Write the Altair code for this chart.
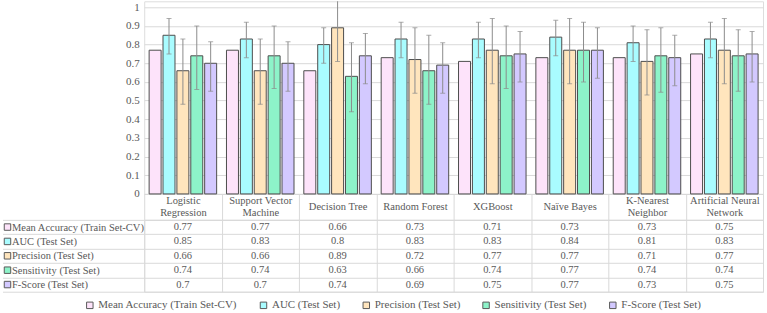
import altair as alt
import pandas as pd

MODELS = ["Logistic Regression", "Support Vector Machine", "Decision Tree",
          "Random Forest", "XGBoost", "Naïve Bayes", "K-Nearest Neighbor",
          "Artificial Neural Network"]
HEADER_LINES = {
    "Logistic Regression": ["Logistic", "Regression"],
    "Support Vector Machine": ["Support Vector", "Machine"],
    "K-Nearest Neighbor": ["K-Nearest", "Neighbor"],
    "Artificial Neural Network": ["Artificial Neural", "Network"],
}
METRICS = ["Mean Accuracy (Train Set-CV)", "AUC (Test Set)", "Precision (Test Set)",
           "Sensitivity (Test Set)", "F-Score (Test Set)"]
COLORS = ["#FDE3FA", "#A9FCFF", "#FFE5BD", "#8DF3C9", "#D3C9FF"]

mean_acc = [0.77, 0.77, 0.66, 0.73, 0.71, 0.73, 0.73, 0.75]
auc = [0.85, 0.83, 0.8, 0.83, 0.83, 0.84, 0.81, 0.83]
precision = [0.66, 0.66, 0.89, 0.72, 0.77, 0.77, 0.71, 0.77]
sensitivity = [0.74, 0.74, 0.63, 0.66, 0.74, 0.77, 0.74, 0.74]
fscore = [0.7, 0.7, 0.74, 0.69, 0.75, 0.77, 0.73, 0.75]

# error bar extents; Mean Accuracy has none
auc_lo = [0.75, 0.73, 0.70, 0.73, 0.73, 0.74, 0.71, 0.73]
auc_hi = [0.94, 0.92, 0.89, 0.92, 0.92, 0.93, 0.90, 0.92]
prec_lo = [0.48, 0.48, 0.71, 0.54, 0.59, 0.59, 0.53, 0.59]
prec_hi = [0.83, 0.83, 1.07, 0.89, 0.94, 0.94, 0.88, 0.94]
sens_lo = [0.56, 0.565, 0.44, 0.48, 0.565, 0.60, 0.545, 0.55]
sens_hi = [0.90, 0.90, 0.81, 0.85, 0.90, 0.92, 0.89, 0.88]
f_lo = [0.55, 0.55, 0.59, 0.54, 0.60, 0.62, 0.58, 0.60]
f_hi = [0.815, 0.815, 0.86, 0.81, 0.87, 0.89, 0.85, 0.87]

Y_TICKS = [0, 0.1, 0.2, 0.3, 0.4, 0.5, 0.6, 0.7, 0.8, 0.9, 1]

series = [mean_acc, auc, precision, sensitivity, fscore]
rows = []
for m, vals in zip(METRICS, series):
    for model, v in zip(MODELS, vals):
        rows.append({"model": model, "metric": m, "value": v, "label": str(v)})
df = pd.DataFrame(rows)

err_rows = []
for m, lo, hi in zip(METRICS[1:], [auc_lo, prec_lo, sens_lo, f_lo],
                     [auc_hi, prec_hi, sens_hi, f_hi]):
    for model, a, b in zip(MODELS, lo, hi):
        err_rows.append({"model": model, "metric": m, "lo": a, "hi": b})
edf = pd.DataFrame(err_rows)

FONT = "Liberation Serif"
TXT = "#595959"
GRID = "#D9D9D9"
W = 620
HEADER_H = 26

label_expr = "datum.value"
for k, v in HEADER_LINES.items():
    label_expr = f"datum.value === '{k}' ? ['{v[0]}', '{v[1]}'] : (" + label_expr + ")"
two_line_test = "indexof([" + ", ".join(f"'{k}'" for k in HEADER_LINES) + "], datum.value) >= 0"

x_axis = alt.Axis(labels=False, ticks=False, domain=True, domainColor=GRID, grid=False)
x_scale = alt.Scale(domain=MODELS, paddingInner=0.127, paddingOuter=0.0635)
x_enc = alt.X("model:N", sort=MODELS, title=None, scale=x_scale, axis=x_axis)
xo_enc = alt.XOffset("metric:N", sort=METRICS,
                     scale=alt.Scale(domain=METRICS, paddingInner=0.137, paddingOuter=0))
legend = alt.Legend(orient="none", legendX=-60, legendY=299,
                    direction="horizontal", symbolType="square",
                    symbolSize=42, symbolStrokeColor="#595959", symbolStrokeWidth=1,
                    labelFont=FONT, labelFontSize=11, labelColor=TXT, labelOffset=3,
                    columnPadding=20, labelLimit=300, title=None)
color_enc = alt.Color("metric:N", sort=METRICS, title=None,
                      scale=alt.Scale(domain=METRICS, range=COLORS), legend=legend)
y_scale = alt.Scale(domain=[0, 1.032], nice=False)
y_axis = alt.Axis(values=Y_TICKS, format="~g", grid=True, gridColor=GRID,
                  domain=False, ticks=False, labelPadding=5, labelFontSize=11,
                  labelColor=TXT, labelFont=FONT, labelOverlap=False)

bars = alt.Chart(df).mark_bar(stroke="#4D4D4D", strokeWidth=1).encode(
    x=x_enc,
    xOffset=xo_enc,
    y=alt.Y("value:Q", scale=y_scale, title=None, axis=y_axis),
    color=color_enc,
)
err = alt.Chart(edf).mark_rule(color="#8C8C8C", strokeWidth=1, clip=True).encode(
    x=x_enc,
    xOffset=xo_enc,
    y=alt.Y("lo:Q", scale=y_scale, title=None, axis=y_axis),
    y2="hi:Q",
)
cap_lo = alt.Chart(edf).mark_tick(color="#8C8C8C", thickness=1, size=5,
                                  orient="horizontal", clip=True).encode(
    x=x_enc,
    xOffset=xo_enc,
    y=alt.Y("lo:Q", scale=y_scale, title=None, axis=y_axis),
)
cap_hi = cap_lo.encode(y=alt.Y("hi:Q", scale=y_scale, title=None, axis=y_axis))

top = alt.layer(bars, err, cap_lo, cap_hi).properties(width=W, height=193)

tbl_x = alt.X("model:N", sort=MODELS, title=None,
              scale=alt.Scale(domain=MODELS),
              axis=alt.Axis(orient="top", tickBand="extent", tickSize=HEADER_H,
                            tickColor=GRID, grid=True, gridColor=GRID,
                            domain=True, domainColor=GRID, labelAngle=0,
                            labelPadding=-HEADER_H / 2,
                            labelBaseline={"condition": {"test": two_line_test,
                                                         "value": "line-bottom"},
                                           "value": "middle"},
                            labelExpr=label_expr, labelFont=FONT,
                            labelFontSize=10.5, labelColor=TXT,
                            labelLineHeight=12, labelOverlap=False))
tbl_y = alt.Y("metric:N", sort=METRICS, title=None,
              scale=alt.Scale(domain=METRICS),
              axis=alt.Axis(orient="left", tickBand="extent", tickSize=142,
                            tickColor=GRID, grid=True, gridColor=GRID,
                            domain=False, labelAlign="left", labelPadding=-9,
                            labelBaseline="middle", labelFont=FONT,
                            labelFontSize=10.5, labelColor=TXT, labelLimit=200))

cells = alt.Chart(df).mark_text(font=FONT, fontSize=10.5, color=TXT).encode(
    x=tbl_x, y=tbl_y, text="label:N")
swatch_df = pd.DataFrame({"metric": METRICS})
swatches = alt.Chart(swatch_df).mark_point(
    shape="square", filled=True, size=42, stroke="#595959", strokeWidth=1,
    opacity=1).encode(
    x=alt.value(-137),
    y=tbl_y,
    color=color_enc,
)
table = alt.layer(cells, swatches).properties(width=W, height=72)

chart = alt.vconcat(top, table, spacing=HEADER_H, bounds="flush").properties(
    padding={"left": 1.5, "top": 0, "right": 3, "bottom": 0}
).configure_view(stroke=None).configure(font=FONT)

chart.save("out.html", embed_options={"renderer": "svg", "actions": False})
